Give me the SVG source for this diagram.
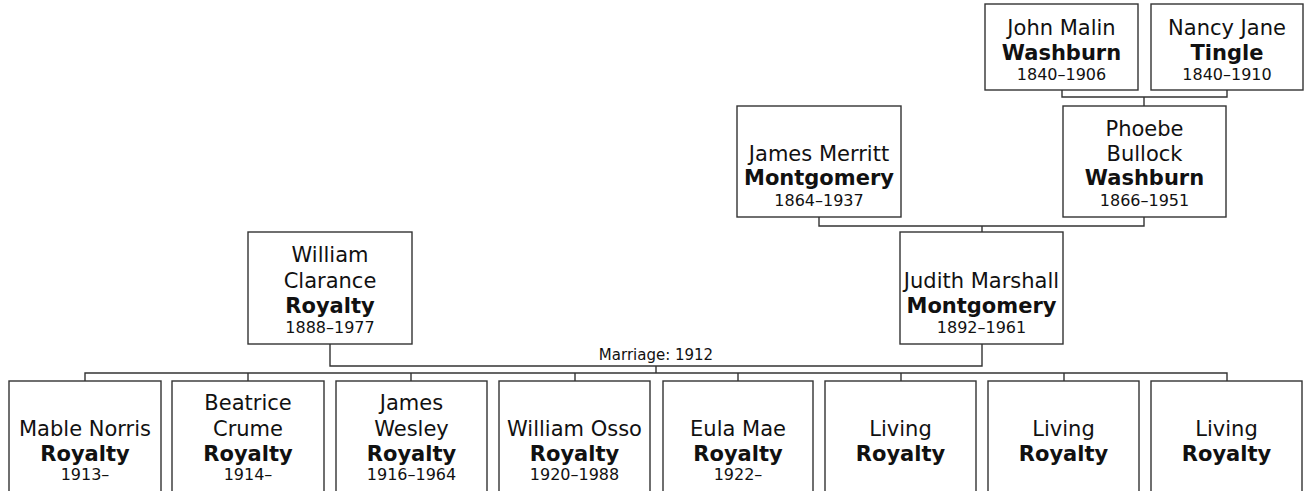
<svg xmlns="http://www.w3.org/2000/svg" width="1304" height="491" viewBox="0 0 1304 491">
<style>
.box{fill:#fff;stroke:#333;stroke-width:1.4}
.ln{fill:none;stroke:#333;stroke-width:1.4}
text{font-family:"DejaVu Sans","Liberation Sans",sans-serif;fill:#111;text-anchor:middle}
.n{font-size:21px}
.s{font-size:21px;font-weight:bold}
.d{font-size:16px}
.m{font-size:15px}
</style>
<rect width="1304" height="491" fill="#fff"/>
<g id="connectors">
<path class="ln" d="M1062,90 V97 H1227 V90 M1144,97 V106"/>
<path class="ln" d="M819,217 V226 H1144 V217 M982,226 V232"/>
<path class="ln" d="M330,344 V366 H982 V344 M656,366 V373"/>
<path class="ln" d="M85,381 V373 H1227 V381 M248,373 V381 M411,373 V381 M575,373 V381 M738,373 V381 M901,373 V381 M1064,373 V381"/>
<text class="m" x="656" y="360">Marriage: 1912</text>
</g>
<g id="john"><rect class="box" x="985" y="4" width="153" height="86"/><text class="n" x="1061.5" y="35">John Malin</text><text class="s" x="1061.5" y="60">Washburn</text><text class="d" x="1061.5" y="80">1840–1906</text></g>
<g id="nancy"><rect class="box" x="1151" y="4" width="152" height="86"/><text class="n" x="1227" y="35">Nancy Jane</text><text class="s" x="1227" y="60">Tingle</text><text class="d" x="1227" y="80">1840–1910</text></g>
<g id="james-merritt"><rect class="box" x="737" y="106" width="164" height="111"/><text class="n" x="819" y="161">James Merritt</text><text class="s" x="819" y="185">Montgomery</text><text class="d" x="819" y="206">1864–1937</text></g>
<g id="phoebe"><rect class="box" x="1063" y="106" width="163" height="111"/><text class="n" x="1144.5" y="136">Phoebe</text><text class="n" x="1144.5" y="161">Bullock</text><text class="s" x="1144.5" y="185">Washburn</text><text class="d" x="1144.5" y="206">1866–1951</text></g>
<g id="william"><rect class="box" x="248" y="232" width="164" height="112"/><text class="n" x="330" y="262">William</text><text class="n" x="330" y="288">Clarance</text><text class="s" x="330" y="313">Royalty</text><text class="d" x="330" y="333">1888–1977</text></g>
<g id="judith"><rect class="box" x="900" y="232" width="163" height="112"/><text class="n" x="981.5" y="288">Judith Marshall</text><text class="s" x="981.5" y="313">Montgomery</text><text class="d" x="981.5" y="333">1892–1961</text></g>
<g id="mable"><rect class="box" x="9" y="381" width="152" height="115"/><text class="n" x="85" y="436">Mable Norris</text><text class="s" x="85" y="461">Royalty</text><text class="d" x="85" y="480">1913–</text></g>
<g id="beatrice"><rect class="box" x="172" y="381" width="152" height="115"/><text class="n" x="248" y="410">Beatrice</text><text class="n" x="248" y="436">Crume</text><text class="s" x="248" y="461">Royalty</text><text class="d" x="248" y="480">1914–</text></g>
<g id="james-wesley"><rect class="box" x="336" y="381" width="151" height="115"/><text class="n" x="411.5" y="410">James</text><text class="n" x="411.5" y="436">Wesley</text><text class="s" x="411.5" y="461">Royalty</text><text class="d" x="411.5" y="480">1916–1964</text></g>
<g id="william-osso"><rect class="box" x="499" y="381" width="151" height="115"/><text class="n" x="574.5" y="436">William Osso</text><text class="s" x="574.5" y="461">Royalty</text><text class="d" x="574.5" y="480">1920–1988</text></g>
<g id="eula"><rect class="box" x="663" y="381" width="150" height="115"/><text class="n" x="738" y="436">Eula Mae</text><text class="s" x="738" y="461">Royalty</text><text class="d" x="738" y="480">1922–</text></g>
<g id="living1"><rect class="box" x="825" y="381" width="151" height="115"/><text class="n" x="900.5" y="436">Living</text><text class="s" x="900.5" y="461">Royalty</text></g>
<g id="living2"><rect class="box" x="988" y="381" width="151" height="115"/><text class="n" x="1063.5" y="436">Living</text><text class="s" x="1063.5" y="461">Royalty</text></g>
<g id="living3"><rect class="box" x="1151" y="381" width="151" height="115"/><text class="n" x="1226.5" y="436">Living</text><text class="s" x="1226.5" y="461">Royalty</text></g>
</svg>
